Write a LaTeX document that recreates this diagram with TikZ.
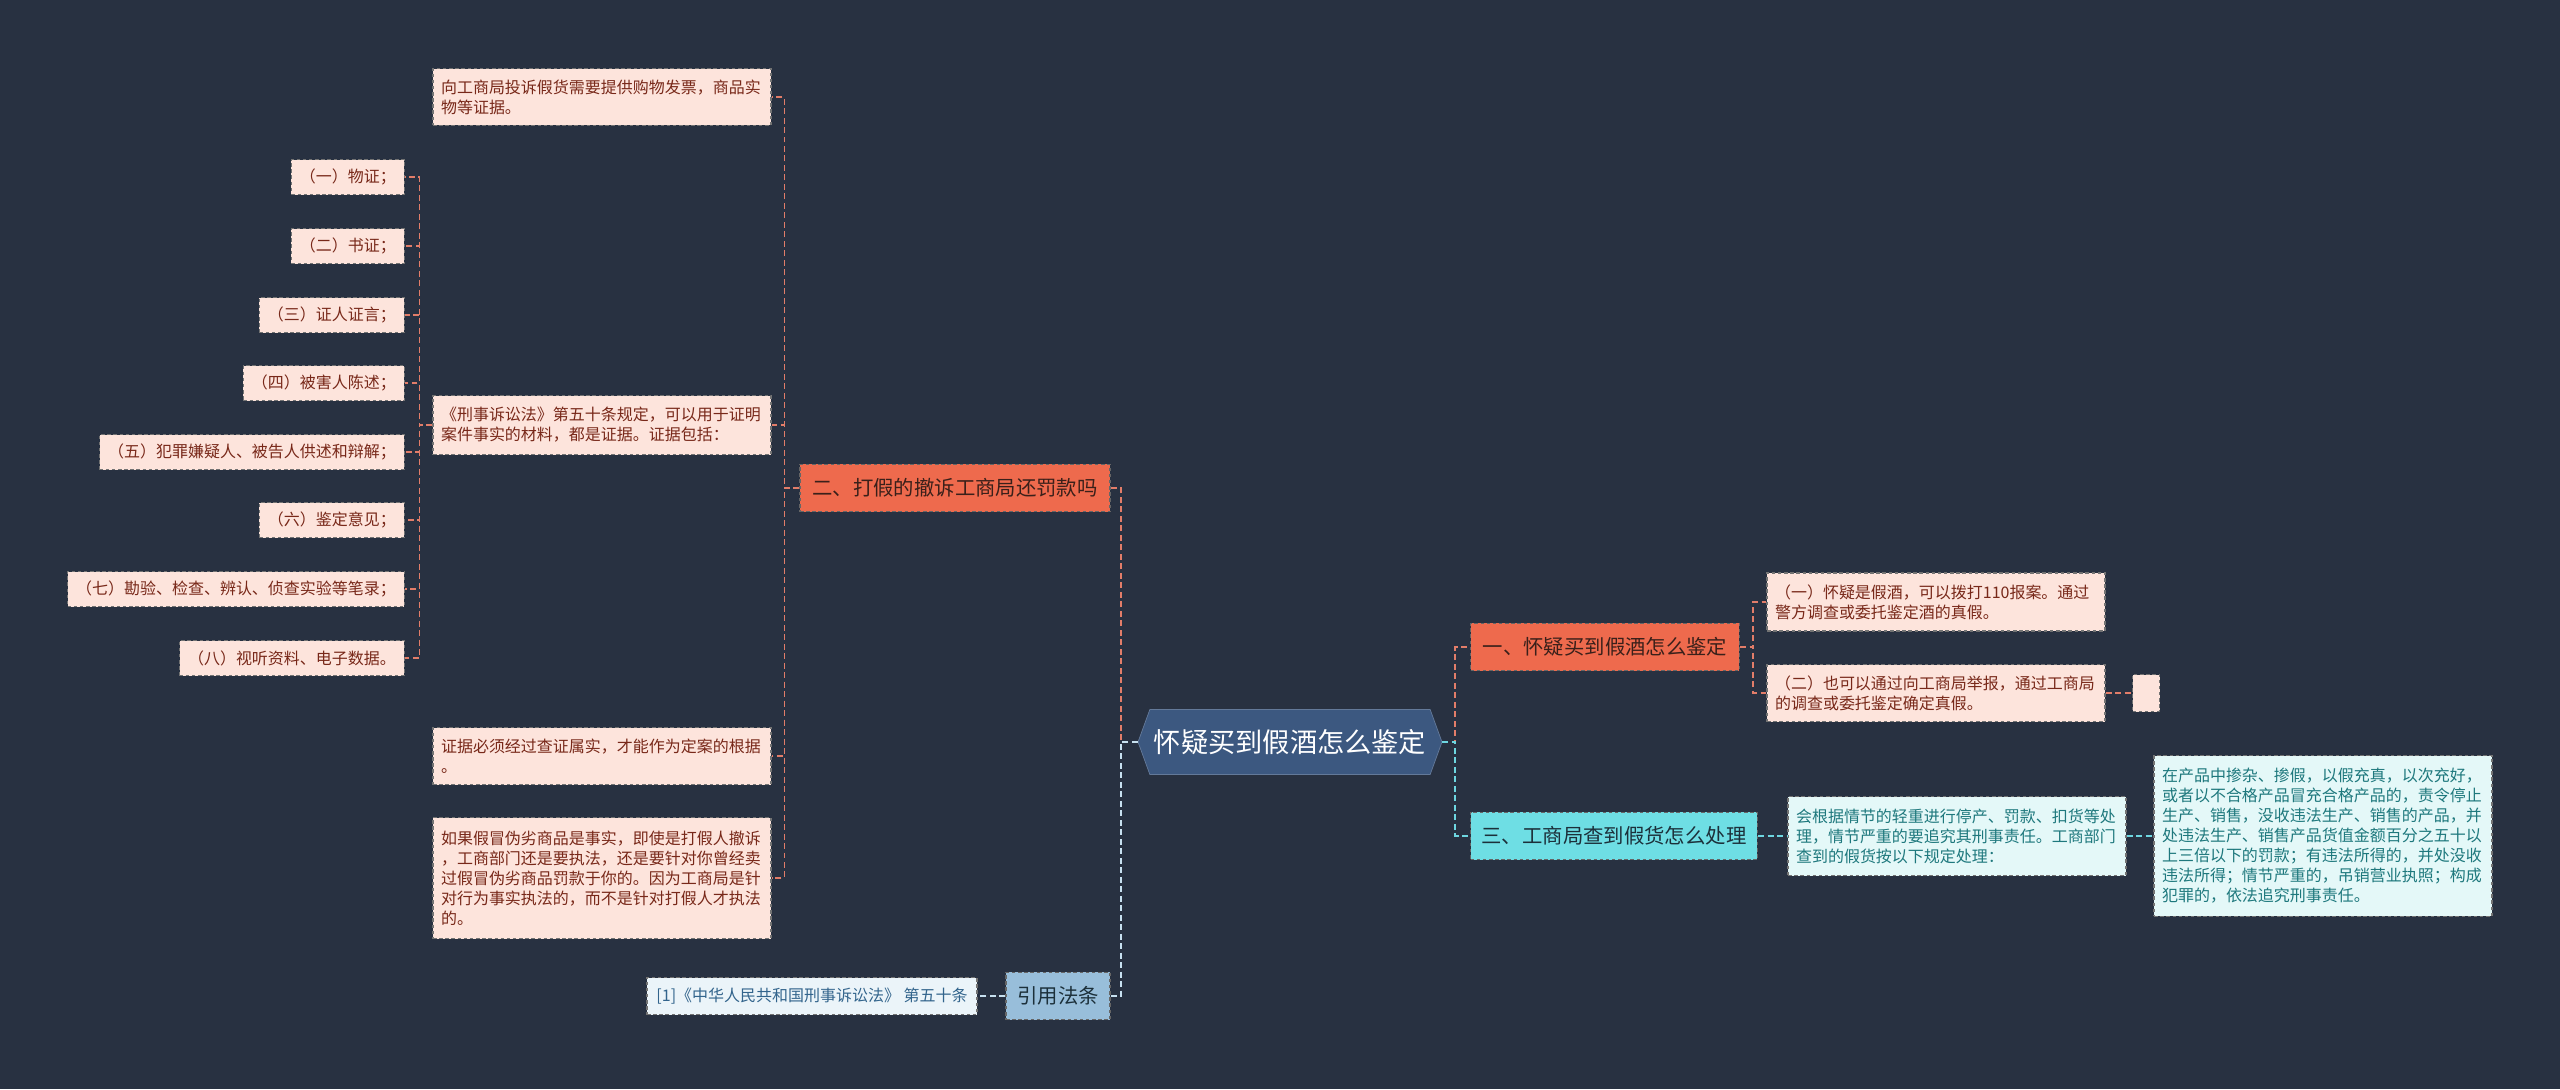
\documentclass[tikz,border=0pt]{standalone}
\usepackage{fontspec}
\setmainfont{Noto Sans CJK SC}
\usetikzlibrary{shapes.symbols}
\definecolor{bgcol}{RGB}{40,49,65}
\definecolor{rootblue}{RGB}{60,88,128}
\definecolor{mainorange}{RGB}{238,106,77}
\definecolor{maintext}{RGB}{58,32,26}
\definecolor{leafpink}{RGB}{253,228,220}
\definecolor{leaftext}{RGB}{120,40,25}
\definecolor{maincyan}{RGB}{110,222,228}
\definecolor{cyantext}{RGB}{28,48,58}
\definecolor{leafcyan}{RGB}{228,248,248}
\definecolor{leafcyantext}{RGB}{30,120,125}
\definecolor{mainsteel}{RGB}{152,190,218}
\definecolor{leafsteel}{RGB}{235,244,249}
\definecolor{leafsteeltext}{RGB}{50,100,140}
\definecolor{linkpink}{RGB}{226,125,105}
\definecolor{linkcyan}{RGB}{110,215,225}
\definecolor{linksteel}{RGB}{200,225,240}
\begin{document}
\begin{tikzpicture}[
    x=0.02cm, y=-0.02cm,
    rootnode/.style={signal, signal to=west and east, signal pointer angle=140, fill=rootblue, draw=rootblue!80!white, text=white, font=\fontsize{15.5pt}{18pt}\selectfont, minimum width=6.08cm, minimum height=1.3cm, inner sep=0pt},
    mainbox/.style={rectangle, draw=black!60, dash pattern=on 2pt off 1.5pt, line width=0.7pt, font=\fontsize{11.6pt}{14pt}\selectfont, minimum height=0.95cm, inner sep=0pt},
    leafbox/.style={rectangle, draw=black!55, dash pattern=on 2pt off 1.5pt, line width=0.7pt, font=\fontsize{9.1pt}{11.4pt}\selectfont, align=left, inner xsep=0.16cm, inner ysep=0pt},
    redleaf/.style={leafbox, fill=leafpink, text=leaftext},
    cyanleaf/.style={leafbox, fill=leafcyan, text=leafcyantext},
    steelleaf/.style={leafbox, fill=leafsteel, text=leafsteeltext},
    subleaf/.style={redleaf, anchor=east, inner xsep=0.17cm, minimum height=0.7cm},
    link/.style={dash pattern=on 3.4pt off 2pt, line width=1pt},
]
\fill[bgcol] (0,0) rectangle (2560,1089);

\node[rootnode] (root) at (1290,742) {怀疑买到假酒怎么鉴定};

\node[mainbox, fill=mainorange, text=maintext, minimum width=6.2cm] (b2) at (955,488) {二、打假的撤诉工商局还罚款吗};
\node[mainbox, fill=mainorange, text=maintext, minimum width=5.38cm] (b1) at (1605,647) {一、怀疑买到假酒怎么鉴定};
\node[mainbox, fill=maincyan, text=cyantext, minimum width=5.74cm] (b3) at (1614,836) {三、工商局查到假货怎么处理};
\node[mainbox, fill=mainsteel, text=cyantext, minimum width=2.08cm] (bref) at (1058,996) {引用法条};

\node[redleaf, text width=6.44cm, minimum height=1.14cm] (l21) at (602,97) {向工商局投诉假货需要提供购物发票，商品实\\物等证据。};
\node[redleaf, text width=6.44cm, minimum height=1.18cm] (l22) at (602,425) {《刑事诉讼法》第五十条规定，可以用于证明\\案件事实的材料，都是证据。证据包括：};
\node[redleaf, text width=6.44cm, minimum height=1.14cm] (l23) at (602,756) {证据必须经过查证属实，才能作为定案的根据\\。};
\node[redleaf, text width=6.44cm, minimum height=2.42cm] (l24) at (602,878) {如果假冒伪劣商品是事实，即使是打假人撤诉\\，工商部门还是要执法，还是要针对你曾经卖\\过假冒伪劣商品罚款于你的。因为工商局是针\\对行为事实执法的，而不是针对打假人才执法\\的。};

\node[subleaf] (s1) at (405,177) {（一）物证；};
\node[subleaf] (s2) at (405,246) {（二）书证；};
\node[subleaf] (s3) at (405,315) {（三）证人证言；};
\node[subleaf] (s4) at (405,383) {（四）被害人陈述；};
\node[subleaf] (s5) at (405,452) {（五）犯罪嫌疑人、被告人供述和辩解；};
\node[subleaf] (s6) at (405,520) {（六）鉴定意见；};
\node[subleaf] (s7) at (405,589) {（七）勘验、检查、辨认、侦查实验等笔录；};
\node[subleaf] (s8) at (405,658) {（八）视听资料、电子数据。};

\node[redleaf, text width=6.44cm, minimum height=1.16cm] (r11) at (1936,602) {（一）怀疑是假酒，可以拨打110报案。通过\\警方调查或委托鉴定酒的真假。};
\node[redleaf, text width=6.44cm, minimum height=1.14cm] (r12) at (1936,693) {（二）也可以通过向工商局举报，通过工商局\\的调查或委托鉴定确定真假。};
\node[redleaf, minimum width=0.54cm, minimum height=0.74cm] (r13) at (2146,693) {};

\node[cyanleaf, text width=6.44cm, minimum height=1.58cm] (r31) at (1957,836) {会根据情节的轻重进行停产、罚款、扣货等处\\理，情节严重的要追究其刑事责任。工商部门\\查到的假货按以下规定处理：};
\node[cyanleaf, text width=6.44cm, minimum height=3.22cm] (r32) at (2323,836) {在产品中掺杂、掺假，以假充真，以次充好，\\或者以不合格产品冒充合格产品的，责令停止\\生产、销售，没收违法生产、销售的产品，并\\处违法生产、销售产品货值金额百分之五十以\\上三倍以下的罚款；有违法所得的，并处没收\\违法所得；情节严重的，吊销营业执照；构成\\犯罪的，依法追究刑事责任。};

\node[steelleaf, minimum width=6.6cm, minimum height=0.74cm] (rref) at (812,996) {[1]《中华人民共和国刑事诉讼法》 第五十条};

\draw[link, linkpink] (root.west) -- ++(-17,0) |- (b2.east);
\draw[link, linksteel] (root.west) -- ++(-17,0) |- (bref.east);
\draw[link, linkpink] (root.east) -- ++(13,0) |- (b1.west);
\draw[link, linkcyan] (root.east) -- ++(13,0) |- (b3.west);

\draw[link, linkpink] (b2.west) -- ++(-15,0) |- (l21.east);
\draw[link, linkpink] (b2.west) -- ++(-15,0) |- (l22.east);
\draw[link, linkpink] (b2.west) -- ++(-15,0) |- (l23.east);
\draw[link, linkpink] (b2.west) -- ++(-15,0) |- (l24.east);

\foreach \s in {s1,s2,s3,s4,s5,s6,s7,s8}
  \draw[link, linkpink] (l22.west) -- ++(-13,0) |- (\s.east);

\draw[link, linkpink] (b1.east) -- ++(13,0) |- (r11.west);
\draw[link, linkpink] (b1.east) -- ++(13,0) |- (r12.west);
\draw[link, linkpink] (r12.east) -- (r13.west);

\draw[link, linkcyan] (b3.east) -- (r31.west);
\draw[link, linkcyan] (r31.east) -- (r32.west);

\draw[link, linksteel] (bref.west) -- (rref.east);
\end{tikzpicture}
\end{document}
